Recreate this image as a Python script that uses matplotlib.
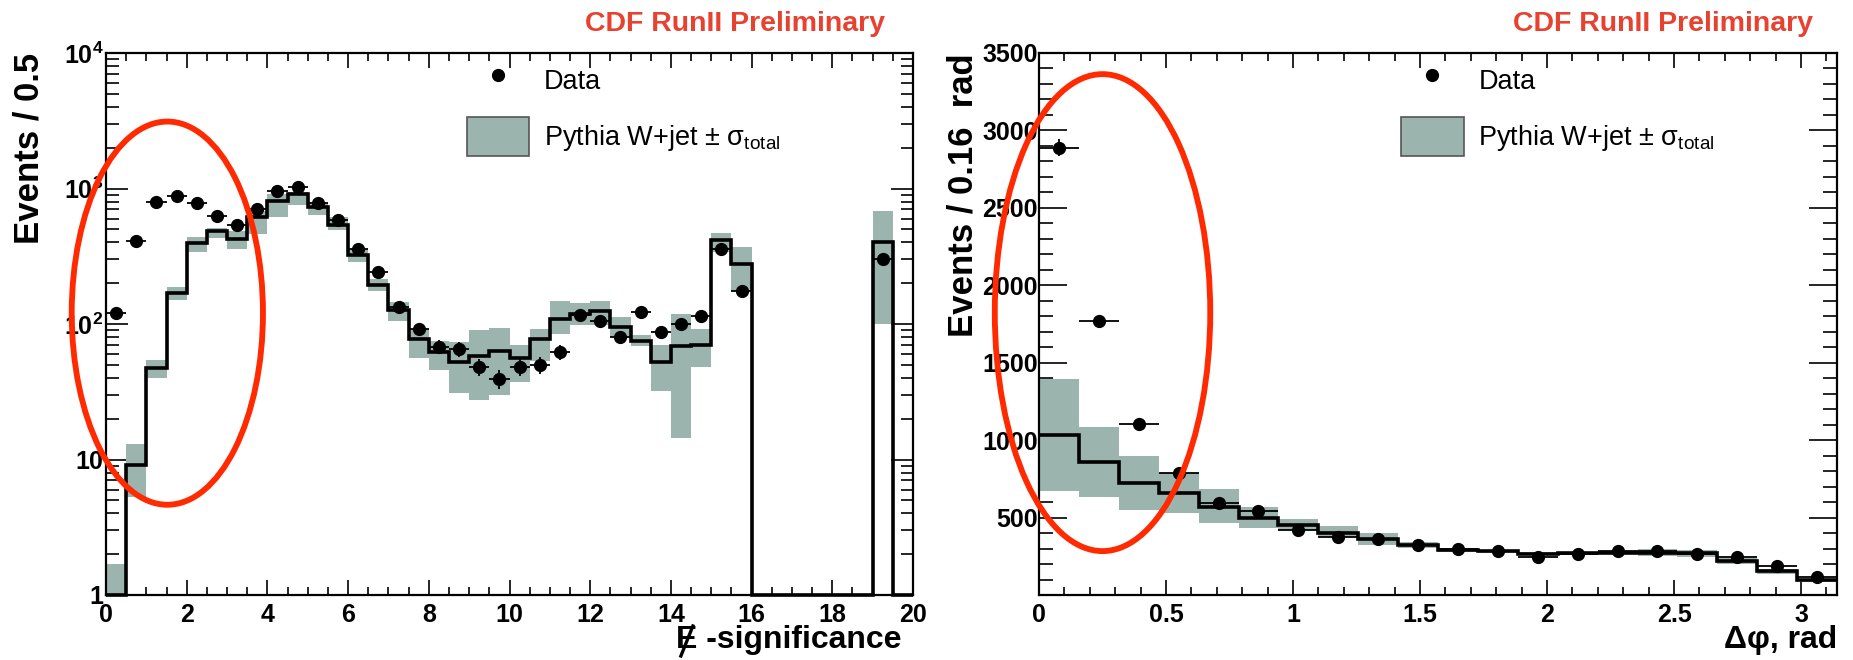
import numpy as np
import matplotlib
matplotlib.use("Agg")
import matplotlib.pyplot as plt
from matplotlib.patches import Ellipse, Patch
from matplotlib.lines import Line2D
from matplotlib.ticker import FixedLocator, MultipleLocator, NullFormatter, FixedFormatter

plt.rcParams['font.family'] = ['Liberation Sans', 'DejaVu Sans']
plt.rcParams['mathtext.fontset'] = 'custom'
plt.rcParams['mathtext.rm'] = 'Liberation Sans'
plt.rcParams['mathtext.bf'] = 'Liberation Sans:bold'
plt.rcParams['mathtext.it'] = 'Liberation Sans:italic'

# ---------------- Left panel: MET significance (bins of 0.5) ----------------
sig_edges = np.arange(0, 20.5, 0.5)
sig_mc = [0, 9.1, 47, 169, 398, 483, 426, 611, 807, 905,
          730, 541, 325, 194, 126, 77, 62, 52.6, 57.6, 63,
          56, 77, 108, 118, 124, 95, 75, 52, 69, 70,
          419, 275, 0, 0, 0, 0, 0, 0, 403, 0]
sig_lo = [0.5, 5.3, 40, 151, 339, 433, 358, 458, 611, 757,
          640, 493, 287, 174, 106, 56, 46, 31, 27.6, 30,
          37.5, 53, 85, 99, 99, 80, 69, 32, 14.3, 48,
          340, 174, np.nan, np.nan, np.nan, np.nan, np.nan, np.nan, 100, np.nan]
sig_hi = [1.7, 13, 54, 187, 437, 511, 483, 679, 905, 937,
          784, 611, 357, 216, 146, 92, 75, 74, 90, 93,
          70, 92, 149, 143, 149, 112, 83, 70, 118, 92,
          470, 370, np.nan, np.nan, np.nan, np.nan, np.nan, np.nan, 684, np.nan]
sig_data = [120, 412, 801, 885, 784, 632, 537, 705, 951, 1028,
            784, 589, 357, 241, 134, 92, 68, 65, 48, 39.5,
            48, 50, 62, 116, 106, 80, 122, 87.5, 100, 114,
            357, 174, np.nan, np.nan, np.nan, np.nan, np.nan, np.nan, 300, np.nan]
sig_xticks = [0, 2, 4, 6, 8, 10, 12, 14, 16, 18, 20]
sig_yticks = [1, 10, 100, 1000, 10000]
sig_ylabels = ['1', '10', r'$\mathbf{10^{2}}$', r'$\mathbf{10^{3}}$', r'$\mathbf{10^{4}}$']

# ---------------- Right panel: delta phi (20 bins over [0, pi]) ----------------
phi_edges = np.linspace(0, np.pi, 21)
phi_mc = [1034, 861, 722, 657, 571, 496, 453, 403, 360, 324,
          292, 281, 266, 270, 272, 272, 270, 220, 152, 94]
phi_lo = [674, 635, 550, 532, 468, 431, 421, 374, 324, 305,
          280, 270, 256, 260, 262, 250, 248, 200, 138, 84]
phi_hi = [1393, 1087, 898, 790, 683, 567, 490, 446, 403, 345,
          305, 292, 276, 280, 285, 295, 292, 240, 168, 105]
phi_data = [2889, 1768, 1105, 785, 594, 540, 420, 375, 360, 323,
            296, 281, 248, 266, 285, 285, 266, 248, 188, 115]
phi_xticks = [0, 0.5, 1, 1.5, 2, 2.5, 3]
phi_xlabels = ['0', '0.5', '1', '1.5', '2', '2.5', '3']
phi_yticks = [500, 1000, 1500, 2000, 2500, 3000, 3500]

BAND = '#9bb5ae'
RED_TXT = '#e8412f'
RED_ELL = '#ff2a00'
TICK_FS = 18

fig = plt.figure(figsize=(18.53, 6.60), dpi=100)
axL = fig.add_axes([106/1853, 65/660, 807/1853, 542/660])
axR = fig.add_axes([1039/1853, 65/660, 798/1853, 542/660])


def style_axes(ax):
    for s in ax.spines.values():
        s.set_linewidth(1.6)
    ax.tick_params(which='both', direction='in', top=True, right=True, width=1.2)
    ax.tick_params(which='major', length=11, labelsize=TICK_FS, pad=6)
    ax.tick_params(which='minor', length=6)
    for lab in ax.get_xticklabels() + ax.get_yticklabels():
        lab.set_fontweight('bold')


def draw_panel(ax, edges, mc, lo, hi, data, floor):
    edges = np.asarray(edges)
    widths = np.diff(edges)
    centers = edges[:-1] + widths / 2
    lo = np.asarray(lo, float)
    hi = np.asarray(hi, float)
    ok = ~np.isnan(lo)
    ax.bar(edges[:-1][ok], (hi - lo)[ok], bottom=lo[ok], width=widths[ok],
           align='edge', color=BAND, edgecolor='none', zorder=2)
    mcv = np.asarray(mc, float)
    if floor is not None:
        mcv = np.where(mcv > floor, mcv, floor)
    ax.stairs(mcv, edges, baseline=None, color='black', linewidth=2.6,
              zorder=3, clip_on=False)
    d = np.asarray(data, float)
    okd = ~np.isnan(d)
    ax.errorbar(centers[okd], d[okd], xerr=widths[okd] / 2, yerr=np.sqrt(d[okd]),
                fmt='o', color='black', markersize=8.5, elinewidth=1.3,
                capsize=0, zorder=4)


# ---- left panel
draw_panel(axL, sig_edges, sig_mc, sig_lo, sig_hi, sig_data, floor=1.0)
axL.set_yscale('log')
axL.set_xlim(0, 20)
axL.set_ylim(1, 1e4)
axL.xaxis.set_major_locator(FixedLocator(sig_xticks))
axL.xaxis.set_minor_locator(MultipleLocator(0.5))
axL.yaxis.set_major_locator(FixedLocator(sig_yticks))
axL.yaxis.set_major_formatter(FixedFormatter(sig_ylabels))
axL.yaxis.set_minor_locator(FixedLocator(
    [m * 10 ** e for e in range(0, 4) for m in range(2, 10)]))
axL.yaxis.set_minor_formatter(NullFormatter())
style_axes(axL)
axL.tick_params(axis='y', which='major', length=16, pad=2)
axL.tick_params(axis='y', which='minor', length=9)

# ---- right panel
draw_panel(axR, phi_edges, phi_mc, phi_lo, phi_hi, phi_data, floor=None)
axR.set_xlim(0, np.pi)
axR.set_ylim(0, 3500)
axR.xaxis.set_major_locator(FixedLocator(phi_xticks))
axR.xaxis.set_major_formatter(FixedFormatter(phi_xlabels))
axR.xaxis.set_minor_locator(MultipleLocator(0.1))
axR.yaxis.set_major_locator(FixedLocator(phi_yticks))
axR.yaxis.set_minor_locator(MultipleLocator(100))
style_axes(axR)
axR.tick_params(axis='y', which='major', length=20, pad=1)
axR.tick_params(axis='y', which='minor', length=10)

# ---- axis titles
axL.text(-0.095, 1.0, 'Events / 0.5', transform=axL.transAxes, rotation=90,
         ha='center', va='top', fontsize=25, fontweight='bold')
axR.text(-0.095, 1.0, 'Events / 0.16  rad', transform=axR.transAxes, rotation=90,
         ha='center', va='top', fontsize=25, fontweight='bold')
xl = axL.text(0.986, -0.083, 'E -significance', transform=axL.transAxes,
              ha='right', va='center', fontsize=23, fontweight='bold')
axR.text(1.0, -0.083, '\u0394\u03c6, rad', transform=axR.transAxes,
         ha='right', va='center', fontsize=23, fontweight='bold')

# slash through the "E" (missing transverse energy symbol), drawn as a line
fig.canvas.draw()
renderer = fig.canvas.get_renderer()
bb = xl.get_window_extent(renderer)
tmp = fig.text(0, 0, 'E', fontsize=23, fontweight='bold')
ew = tmp.get_window_extent(renderer).width
tmp.remove()
cx = bb.x0 + ew * 0.5
cy = (bb.y0 + bb.y1) / 2
W, H = fig.bbox.width, fig.bbox.height
fig.add_artist(Line2D([(cx - 6) / W, (cx + 6) / W], [(cy - 16) / H, (cy + 14) / H],
                      transform=fig.transFigure, color='black', linewidth=2.4))

# ---- header text
fig.text(885/1853, 1 - 24/660, 'CDF RunII Preliminary', ha='right', va='center',
         fontsize=20.5, fontweight='bold', color=RED_TXT)
fig.text(1813/1853, 1 - 24/660, 'CDF RunII Preliminary', ha='right', va='center',
         fontsize=20.5, fontweight='bold', color=RED_TXT)

# ---- legends
for ax, x0 in ((axL, 0.447), (axR, 0.454)):
    handles = [Line2D([], [], marker='o', color='black', linestyle='none', markersize=8.5),
               Patch(facecolor=BAND, edgecolor='#555555', linewidth=1.2)]
    labels = ['Data', 'Pythia W+jet \u00b1 \u03c3$_{\\mathregular{total}}$']
    ax.legend(handles, labels, loc='upper left', bbox_to_anchor=(x0, 0.985),
              frameon=False, fontsize=19.5, handlelength=2.3, handleheight=1.8,
              handletextpad=0.55, labelspacing=0.66, borderpad=0, borderaxespad=0)

# ---- red ellipse annotations
axL.add_patch(Ellipse((0.076, 0.520), 0.237, 0.707, transform=axL.transAxes,
                      fill=False, edgecolor=RED_ELL, linewidth=4.2, clip_on=False, zorder=10))
axR.add_patch(Ellipse((0.0796, 0.521), 0.27, 0.88, transform=axR.transAxes,
                      fill=False, edgecolor=RED_ELL, linewidth=4.2, clip_on=False, zorder=10))

fig.savefig('out.png', dpi=100)
